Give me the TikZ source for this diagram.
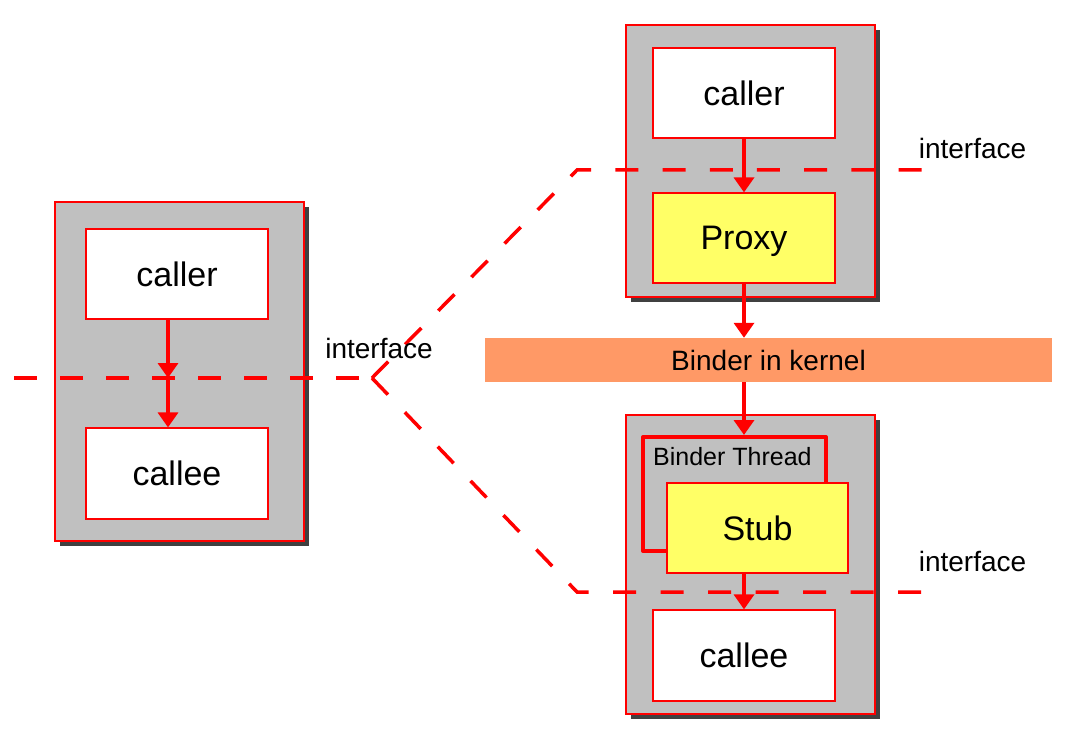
\documentclass[tikz,border=0pt]{standalone}
\usepackage{fontspec}
\setmainfont{Liberation Sans}
\usetikzlibrary{arrows.meta,shadows,calc}
\definecolor{boxgray}{HTML}{C0C0C0}
\definecolor{shadowgray}{HTML}{404040}
\definecolor{proxyyellow}{HTML}{FFFF66}
\definecolor{binderorange}{HTML}{FF9966}
\definecolor{linered}{HTML}{FF0000}
\begin{document}
\begin{tikzpicture}[x=1pt,y=-1pt,
  outerbox/.style={draw=linered, line width=1.1pt, fill=boxgray, inner sep=0pt,
    minimum width=249pt,
    drop shadow={shadow xshift=5pt, shadow yshift=-5pt, opacity=1, fill=shadowgray}},
  innerbox/.style={draw=linered, line width=1.2pt, fill=white, inner sep=0pt,
    minimum width=182pt, minimum height=90pt, text depth=0pt,
    font=\fontsize{34}{40}\selectfont},
  yellowbox/.style={innerbox, fill=proxyyellow},
  flow/.style={draw=linered, line width=3.5pt, -{Triangle[width=20pt,length=15pt]}},
  iface/.style={draw=linered, line width=3.5pt, dash pattern=on 23pt off 23pt},
  lbl/.style={font=\fontsize{28}{32}\selectfont, inner sep=0pt},
  threadline/.style={draw=linered, line width=4pt, line join=round}
]
\useasboundingbox (0,0) rectangle (1068,730);

% left block
\node[outerbox, minimum height=339pt] (lbox) at (179.5,371.5) {};
\node[innerbox] (lcaller) at (177,274) {caller};
\node[innerbox, minimum height=91pt] (lcallee) at (177,473.5) {callee};

% top right block
\node[outerbox, minimum height=272pt] (tbox) at (750.5,161) {};
\node[innerbox] (rcaller) at (744,93) {caller};
\node[yellowbox] (rproxy) at (744,238) {Proxy};

% binder bar
\node[fill=binderorange, minimum width=567pt, minimum height=44pt, inner sep=0pt,
      font=\fontsize{28}{32}\selectfont] (bar) at (768.5,360) {Binder in kernel};

% bottom right block
\node[outerbox, minimum height=299pt] (bbox) at (750.5,564.5) {};
\coordinate (thtl) at (643,437);
\coordinate (thtr) at (826,437);
\coordinate (thbl) at (643,551);
\draw[threadline] (667,551) -- (thbl) -- (thtl) -- (thtr) -- (826,490);
\node[anchor=west, font=\fontsize{25}{30}\selectfont, inner sep=0pt] (thlabel) at (653,457) {Binder Thread};
\node[yellowbox, minimum width=181pt] (stub) at (757.5,528) {Stub};
\node[innerbox, minimum height=91pt] (rcallee) at (744,655.5) {callee};

% interface lines
\coordinate (vtx) at (372,378);
\coordinate (lend) at (14,378);
\coordinate (tbend) at (577,170);
\coordinate (tend) at (922,170);
\coordinate (bbend) at (577,592);
\coordinate (bend) at (922,592);
\draw[iface] (lend) -- (vtx);
\draw[iface, dash pattern=on 23pt off 24.2pt] (vtx) -- (tbend) -- (tend);
\draw[iface, dash pattern=on 23pt off 24.5pt] (vtx) -- (bbend) -- (bend);

% labels
\node[lbl] (liface) at (379,348) {interface};
\node[lbl] (tiface) at (972.5,148) {interface};
\node[lbl] (biface) at (972.5,561) {interface};

% arrows
\coordinate (lmid) at (168,378);
\draw[flow] (lmid |- lcaller.south) -- (lmid);
\draw[flow] (lmid) -- (lmid |- lcallee.north);
\draw[flow] (rcaller.south) -- (rproxy.north);
\draw[flow] (rproxy.south) -- (rproxy.south |- bar.north);
\draw[flow] (rproxy.south |- bar.south) -- ($(rproxy.south |- thtl)+(0,-2)$);
\draw[flow] (rcallee.north |- stub.south) -- (rcallee.north);
\end{tikzpicture}
\end{document}
